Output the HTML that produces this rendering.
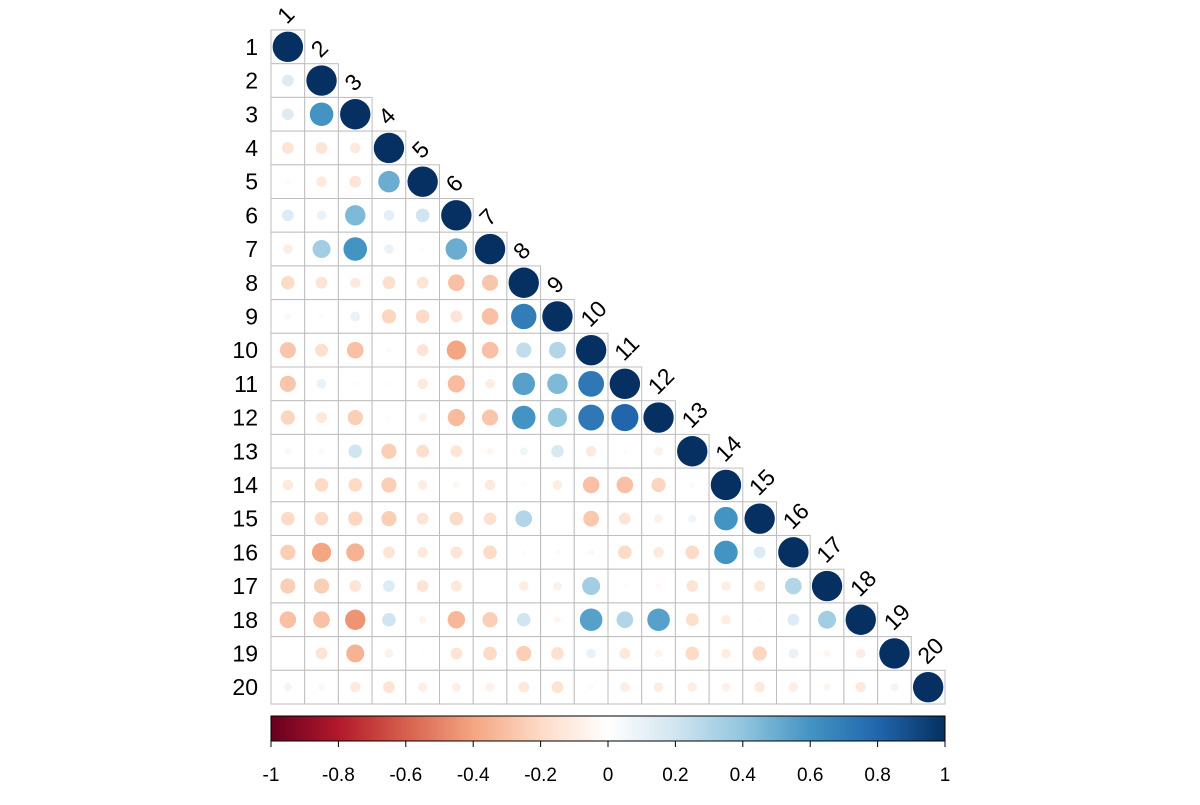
<!DOCTYPE html>
<html><head><meta charset="utf-8"><style>
body{margin:0;background:#fff;width:1200px;height:800px;overflow:hidden}
svg{font-family:"Liberation Sans",Arial,sans-serif}
.lab{font-size:23px}
.leg{font-size:19px}
</style></head><body>
<svg id="chart" width="1200" height="800" xmlns="http://www.w3.org/2000/svg"></svg>
<script>
const labels = ["1","2","3","4","5","6","7","8","9","10","11","12","13","14","15","16","17","18","19","20"];
const lowerRows = [
[],
[0.15],
[0.15,0.6],
[-0.15,-0.15,-0.12],
[-0.03,-0.12,-0.15,0.5],
[0.15,0.1,0.45,0.12,0.2],
[-0.1,0.35,0.6,0.1,-0.02,0.5],
[-0.2,-0.15,-0.12,-0.18,-0.15,-0.3,-0.28],
[0.05,-0.03,0.1,-0.22,-0.2,-0.15,-0.3,0.7],
[-0.28,-0.18,-0.3,0.03,-0.15,-0.4,-0.3,0.25,0.3],
[-0.28,0.1,-0.02,-0.02,-0.12,-0.32,-0.1,0.55,0.45,0.72],
[-0.22,-0.13,-0.25,-0.02,-0.08,-0.32,-0.28,0.6,0.4,0.72,0.8],
[-0.05,0.04,0.2,-0.25,-0.18,-0.15,-0.05,0.07,0.17,-0.12,-0.02,-0.08],
[-0.12,-0.2,-0.2,-0.25,-0.1,-0.05,-0.12,-0.02,-0.1,-0.3,-0.3,-0.22,-0.03],
[-0.2,-0.2,-0.22,-0.25,-0.15,-0.2,-0.17,0.3,-0.01,-0.27,-0.15,-0.08,0.07,0.6],
[-0.25,-0.4,-0.35,-0.15,-0.12,-0.15,-0.2,-0.02,-0.03,0.04,-0.2,-0.12,-0.2,0.6,0.15],
[-0.25,-0.25,-0.15,0.15,-0.15,-0.13,0.0,-0.1,-0.08,0.35,-0.02,-0.04,-0.15,-0.1,-0.13,0.3],
[-0.3,-0.3,-0.45,0.2,-0.06,-0.33,-0.25,0.2,-0.05,0.55,0.3,0.55,-0.18,-0.1,-0.02,0.15,0.35],
[0.0,-0.15,-0.35,-0.08,-0.01,-0.15,-0.2,-0.25,-0.17,0.1,-0.13,-0.06,-0.2,-0.1,-0.22,0.1,-0.05,-0.1],
[-0.07,-0.05,-0.12,-0.15,-0.09,-0.09,-0.08,-0.13,-0.15,-0.03,-0.1,-0.1,-0.1,-0.08,-0.12,-0.1,-0.06,-0.12,0.07]
];
const barTicks = [-1,-0.8,-0.6,-0.4,-0.2,0,0.2,0.4,0.6,0.8,1];
const palette = ["#67001F","#B2182B","#D6604D","#F4A582","#FDDBC7","#FFFFFF","#D1E5F0","#92C5DE","#4393C3","#2166AC","#053061"];

const NS="http://www.w3.org/2000/svg";
const svg=document.getElementById('chart');
const x0=271, y0=30, cs=33.7, maxR=15.2;
const barL=271, barR=945, barT=716, barB=741;
function mk(t,a,p){const e=document.createElementNS(NS,t);for(const k in a)e.setAttribute(k,a[k]);(p||svg).appendChild(e);return e;}
function hex(h){return [1,3,5].map(i=>parseInt(h.substr(i,2),16));}
function color(v){const t=(v+1)/2*(palette.length-1);const i=Math.min(Math.floor(t),palette.length-2);const f=t-i;
 const a=hex(palette[i]),b=hex(palette[i+1]);return 'rgb('+a.map((c,k)=>Math.round(c+(b[k]-c)*f)).join(',')+')';}
function cx(j){return x0+cs*(j+0.5);} function cy(i){return y0+cs*(i+0.5);}
function barX(v){return barL+(v+1)/2*(barR-barL);}
function val(i,j){return i===j?1:lowerRows[i][j];}

const n=labels.length;
for(let i=0;i<n;i++){for(let j=0;j<=i;j++){
 const r=mk('rect',{x:x0+cs*j,y:y0+cs*i,width:cs,height:cs,fill:'#fff',stroke:'#BEBEBE','stroke-width':1});
 
 
}}
for(let i=0;i<n;i++){for(let j=0;j<=i;j++){
 const v=val(i,j);
 const c=mk('circle',{cx:cx(j),cy:cy(i),r:Math.sqrt(Math.abs(v))*maxR,fill:color(v)});
 
 
}}
for(let i=0;i<n;i++){
 const t=mk('text',{x:258,y:cy(i)+8,'text-anchor':'end','class':'lab',fill:'#000'});t.textContent=labels[i];
 
 
 const px=cx(i)-1, py=y0+cs*i-5;
 const u=mk('text',{x:px,y:py,'class':'lab',fill:'#000',transform:'rotate(-45 '+px+' '+py+')'});u.textContent=labels[i];
 
 
}
const defs=mk('defs',{});
const g=mk('linearGradient',{id:'grad',x1:0,x2:1,y1:0,y2:0},defs);
palette.forEach((c,k)=>mk('stop',{offset:(k/(palette.length-1)),'stop-color':c},g));
const bar=mk('rect',{x:barL,y:barT,width:barR-barL,height:barB-barT,fill:'url(#grad)',stroke:'#000','stroke-width':1});


barTicks.forEach(v=>{
 const l=mk('line',{x1:barX(v),x2:barX(v),y1:barB,y2:barB+6,stroke:'#000','stroke-width':1});
 
 
 const t=mk('text',{x:barX(v),y:781,'text-anchor':'middle','class':'leg',fill:'#000'});t.textContent=String(v);
 
 
});
</script>
</body></html>
